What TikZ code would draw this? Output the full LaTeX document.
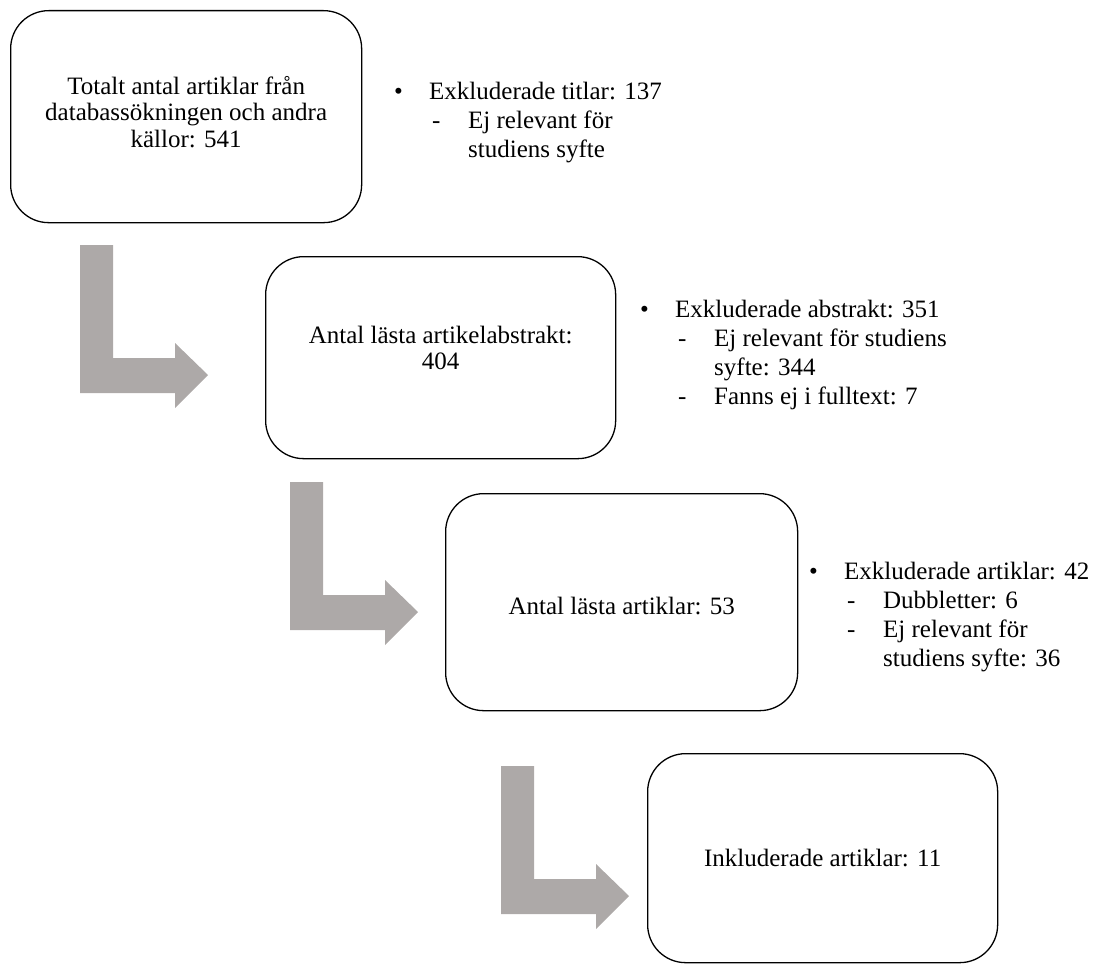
\documentclass[tikz,border=0pt]{standalone}
\usepackage{fontspec}
\setmainfont{Liberation Serif}
\usetikzlibrary{positioning}

\definecolor{arrowgray}{RGB}{173,169,168}

% list lines: bullet item and dash sub item
\newcommand{\itm}[1]{\makebox[37pt][l]{\hspace{2pt}\textbullet}#1}
\newcommand{\subitm}[1]{\hspace{40pt}\makebox[36pt][l]{-}#1}
\newcommand{\subcont}[1]{\hspace{76pt}#1}

\tikzset{
  stagebox/.style={draw, line width=1.3pt, rounded corners=38pt, align=center,
    anchor=north west, inner sep=0pt, font=\fontsize{25}{26.5}\selectfont},
  exclist/.style={anchor=north west, align=left, inner sep=0pt,
    font=\fontsize{25}{29}\selectfont},
  bendarrow/.pic={
    \fill[arrowgray] (0,0) -- (33,0) -- (33,113) -- (95,113) -- (95,98)
      -- (128,130) -- (95,163) -- (95,148) -- (0,148) -- cycle;
  }
}

\begin{document}
\begin{tikzpicture}[x=1pt, y=-1pt]
  \useasboundingbox (0,0) rectangle (1099,963);

  % stages
  \node[stagebox, minimum width=351pt, minimum height=212pt] (total) at (10,10)
    {Totalt antal artiklar från\\databassökningen och andra\\källor: 541\\[-16.5pt]};
  \node[stagebox, minimum width=350pt, minimum height=202pt] (abstr) at (265,256)
    {Antal lästa artikelabstrakt:\\404\\[-6.5pt]};
  \node[stagebox, minimum width=352pt, minimum height=217pt] (read) at (445,493)
    {\\[-2pt]Antal lästa artiklar: 53};
  \node[stagebox, minimum width=350pt, minimum height=209pt] (incl) at (647,753)
    {Inkluderade artiklar: 11};

  % exclusions
  \node[exclist] (exclone) at (392,82)
    {\itm{Exkluderade titlar: 137}\\
     \subitm{Ej relevant för}\\
     \subcont{studiens syfte}};
  \node[exclist] (excltwo) at (638,300)
    {\itm{Exkluderade abstrakt: 351}\\
     \subitm{Ej relevant för studiens}\\
     \subcont{syfte: 344}\\
     \subitm{Fanns ej i fulltext: 7}};
  \node[exclist] (exclthree) at (807,562)
    {\itm{Exkluderade artiklar: 42}\\
     \subitm{Dubbletter: 6}\\
     \subitm{Ej relevant för}\\
     \subcont{studiens syfte: 36}};

  % bent arrows between stages
  \pic at (80,245) {bendarrow};
  \pic at (290,482) {bendarrow};
  \pic at (501,766) {bendarrow};
\end{tikzpicture}
\end{document}
